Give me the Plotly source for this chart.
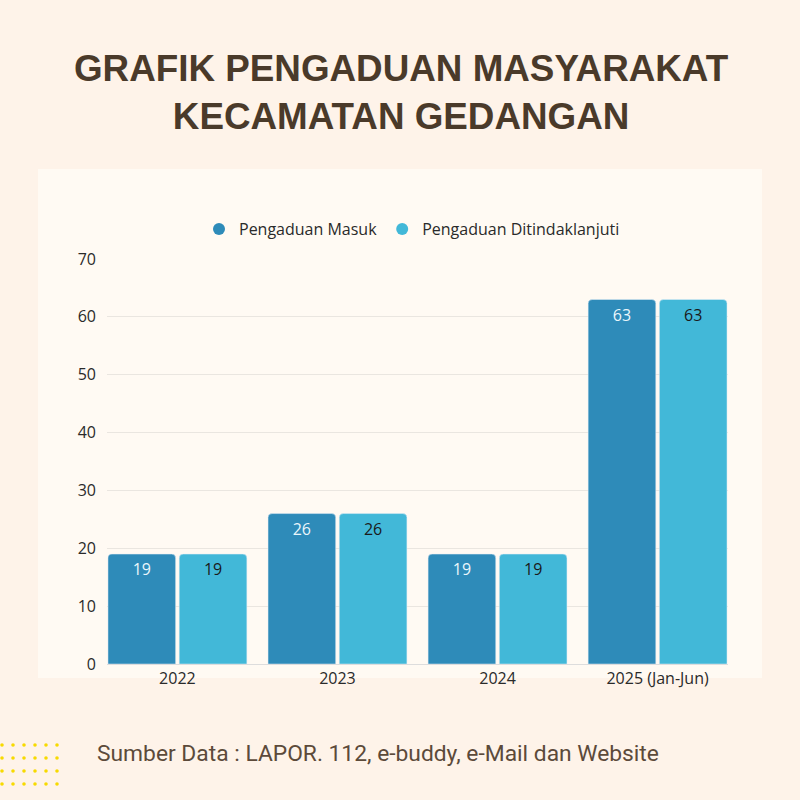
import plotly.graph_objects as go

# data
tahun = ['2022', '2023', '2024', '2025 (Jan-Jun)']
masuk = [19, 26, 19, 63]
ditindaklanjuti = [19, 26, 19, 63]
seri = ['Pengaduan Masuk', 'Pengaduan Ditindaklanjuti']

warna_bg = '#FEF3E9'
warna_panel = '#FFFAF3'
warna_masuk = '#2E8BB9'
warna_tindak = '#42B8D8'
coklat = '#4A3A2A'

# area plot dalam piksel (kiri, kanan, atas, bawah)
L, R, T, B = 107, 728, 259, 664
W, H = 800, 800


def px(x):
    return (x - L) / (R - L)


def py(y):
    return (B - y) / (B - T)


fig = go.Figure()

fig.add_trace(go.Bar(x=tahun, y=masuk, name=seri[0], marker_color=warna_masuk,
                     text=masuk, textposition='inside', insidetextanchor='end',
                     textfont=dict(color='#EAF6FB', size=16, family='Open Sans'),
                     showlegend=False))
fig.add_trace(go.Bar(x=tahun, y=ditindaklanjuti, name=seri[1], marker_color=warna_tindak,
                     text=ditindaklanjuti, textposition='inside', insidetextanchor='end',
                     textfont=dict(color='#1A1A1A', size=16, family='Open Sans'),
                     showlegend=False))

# legenda dengan penanda bulat
for nama, warna in zip(seri, [warna_masuk, warna_tindak]):
    fig.add_trace(go.Scatter(x=[None], y=[None], mode='markers', name=nama,
                             marker=dict(color=warna, size=15, symbol='circle')))

shapes = [dict(type='rect', xref='paper', yref='paper', layer='below',
               x0=px(38), x1=px(762), y0=py(678), y1=py(169),
               fillcolor=warna_panel, line=dict(width=0))]

# titik-titik kuning di pojok kiri bawah
for cx in [2, 13, 24, 35, 46, 57]:
    for cy in [745, 758, 771, 784]:
        shapes.append(dict(type='circle', xref='paper', yref='paper',
                           x0=px(cx - 1.8), x1=px(cx + 1.8), y0=py(cy + 1.8), y1=py(cy - 1.8),
                           fillcolor='#F7DA00', line=dict(width=0)))

fig.update_layout(
    width=W, height=H,
    paper_bgcolor=warna_bg, plot_bgcolor=warna_panel,
    margin=dict(l=L, r=W - R, t=T, b=H - B),
    barmode='group', bargap=0.11, bargroupgap=0.05, barcornerradius=4,
    font=dict(family='Open Sans', size=16, color='#2A2A2A'),
    legend=dict(orientation='h', x=px(412), xanchor='center', y=py(229), yanchor='middle',
                bgcolor='rgba(0,0,0,0)', font=dict(size=16, color='#2A2A2A'),
                itemwidth=30, itemsizing='constant'),
    shapes=shapes,
    annotations=[
        dict(text='<b>GRAFIK PENGADUAN MASYARAKAT<br>KECAMATAN GEDANGAN</b>',
             xref='paper', yref='paper', x=px(401), y=py(92), xanchor='center', yanchor='middle',
             showarrow=False, align='center',
             font=dict(family='Liberation Sans, Arial', size=36.8, color=coklat)),
        dict(text='Sumber Data : LAPOR. 112, e-buddy, e-Mail dan Website',
             xref='paper', yref='paper', x=px(95), y=py(753), xanchor='left', yanchor='middle',
             showarrow=False,
             font=dict(family='Roboto', size=22.8, color='#5C4A3A')),
    ],
)

fig.update_xaxes(type='category', range=[-0.44, 3.44], showgrid=False,
                 showline=True, linecolor='#DDDDDD', ticks='', tickfont=dict(size=16))
fig.update_yaxes(range=[0, 70], dtick=10, gridcolor='#EAE6E0', zeroline=False,
                 showline=False, ticks='', tickfont=dict(size=16), ticklabelstandoff=10)

fig.write_html('out.html', config={'displayModeBar': False},
               post_script="document.body.style.margin='0';")
